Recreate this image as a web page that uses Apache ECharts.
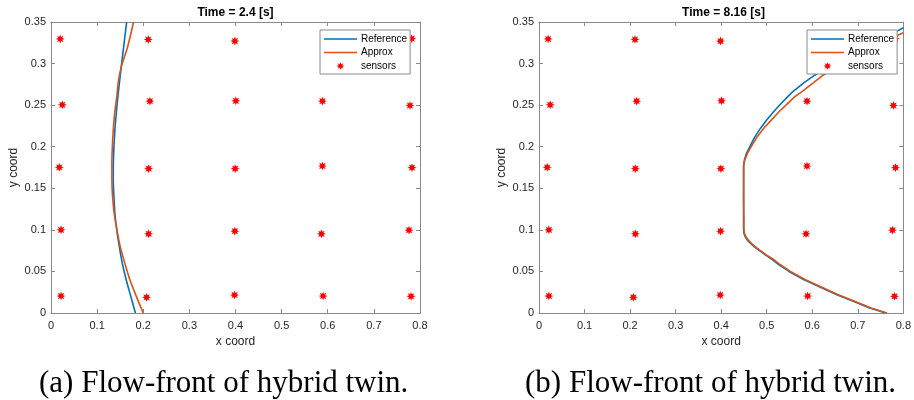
<!DOCTYPE html>
<html><head><meta charset="utf-8">
<script src="https://cdn.jsdelivr.net/npm/echarts@6/dist/echarts.min.js"></script>
<style>html,body{margin:0;padding:0;background:#fff}#c{width:914px;height:400px}</style>
</head><body><div id="c"></div>
<script>
// ---- data ----
const xTicks = [0, 0.1, 0.2, 0.3, 0.4, 0.5, 0.6, 0.7, 0.8];
const yTicks = [0, 0.05, 0.1, 0.15, 0.2, 0.25, 0.3, 0.35];
const seriesNames = ['Reference', 'Approx', 'sensors'];
const titles = ['Time = 2.4 [s]', 'Time = 8.16 [s]'];
const captions = ['(a) Flow-front of hybrid twin.', '(b) Flow-front of hybrid twin.'];

const sensorX = [0.020, 0.2108, 0.3986, 0.782,
                 0.0245, 0.2144, 0.4007, 0.5884, 0.7783,
                 0.018, 0.2116, 0.3993, 0.5884, 0.7827,
                 0.0217, 0.2116, 0.3986, 0.5863, 0.7762,
                 0.0217, 0.2072, 0.3979, 0.5899, 0.7805];
const sensorY = [0.3296, 0.329, 0.327, 0.330,
                 0.2504, 0.2548, 0.2552, 0.2548, 0.2496,
                 0.1752, 0.1736, 0.1736, 0.1768, 0.1748,
                 0.100, 0.0952, 0.0984, 0.0952, 0.0996,
                 0.0204, 0.0188, 0.0216, 0.0204, 0.0200];

// Time = 2.4 s
const refA_y = [0, 0.02, 0.04, 0.06, 0.08, 0.10, 0.12, 0.14, 0.16, 0.18, 0.20, 0.22, 0.24, 0.26, 0.28, 0.296, 0.32, 0.35];
const refA_x = [0.183, 0.173, 0.163, 0.1545, 0.148, 0.1425, 0.1385, 0.1365, 0.135, 0.1352, 0.1365, 0.1385, 0.1415, 0.145, 0.149, 0.1523, 0.1575, 0.164];
const appA_y = [0, 0.02, 0.04, 0.06, 0.08, 0.10, 0.12, 0.14, 0.16, 0.18, 0.20, 0.22, 0.24, 0.26, 0.28, 0.296, 0.32, 0.35];
const appA_x = [0.200, 0.185, 0.171, 0.160, 0.150, 0.143, 0.137, 0.1335, 0.132, 0.132, 0.133, 0.135, 0.138, 0.1425, 0.1465, 0.1523, 0.166, 0.179];

// Time = 8.16 s
const refB_y = [0, 0.006, 0.014, 0.022, 0.031, 0.040, 0.050, 0.058, 0.064, 0.070, 0.076, 0.080, 0.084, 0.088, 0.092, 0.096, 0.100, 0.140, 0.178, 0.184, 0.192, 0.200, 0.211, 0.222, 0.232, 0.242, 0.251, 0.260, 0.267, 0.277, 0.286, 0.302, 0.316, 0.3265, 0.336, 0.343];
const refB_x = [0.761, 0.726, 0.690, 0.654, 0.618, 0.582, 0.549, 0.527, 0.513, 0.497, 0.482, 0.472, 0.464, 0.457, 0.4525, 0.450, 0.4492, 0.449, 0.4492, 0.451, 0.4555, 0.463, 0.473, 0.486, 0.500, 0.515, 0.530, 0.5456, 0.5587, 0.582, 0.6055, 0.650, 0.690, 0.735, 0.7755, 0.800];
const appB_y = [0, 0.006, 0.014, 0.022, 0.031, 0.040, 0.050, 0.058, 0.064, 0.070, 0.076, 0.080, 0.084, 0.088, 0.092, 0.096, 0.100, 0.140, 0.178, 0.184, 0.192, 0.200, 0.211, 0.222, 0.232, 0.242, 0.251, 0.260, 0.266, 0.276, 0.286, 0.300, 0.311, 0.3235, 0.331, 0.337];
const appB_x = [0.764, 0.729, 0.693, 0.657, 0.621, 0.585, 0.552, 0.530, 0.516, 0.499, 0.484, 0.474, 0.466, 0.459, 0.454, 0.451, 0.450, 0.4495, 0.4495, 0.452, 0.4575, 0.466, 0.478, 0.493, 0.510, 0.527, 0.544, 0.561, 0.5767, 0.600, 0.6237, 0.665, 0.705, 0.750, 0.7755, 0.800];

// ---- build ----
const zip = (xs, ys) => xs.map((x, i) => [x, ys[i]]);
const FONT = '"Liberation Sans", Arial, Helvetica, sans-serif';
const AX = '#8a8a8a';
const TXT = '#262626';

function starPath() {
  let d = '';
  for (let i = 0; i < 16; i++) {
    const r = (i % 2 === 0) ? 10 : 5;
    const a = Math.PI / 2 + i * Math.PI / 8;
    const x = (10 + r * Math.cos(a)).toFixed(3);
    const y = (10 - r * Math.sin(a)).toFixed(3);
    d += (i === 0 ? 'M' : 'L') + x + ',' + y;
  }
  return 'path://' + d + 'Z';
}
const STAR = starPath();
const LINE_ICON = 'path://M0,0L100,0L100,5L0,5Z';

const grids = [
  { left: 51, top: 22, width: 369, height: 291 },
  { left: 539, top: 22, width: 369, height: 291 }
];
const xMin = xTicks[0], xMax = xTicks[xTicks.length - 1], xInt = xTicks[1] - xTicks[0];
const yMin = yTicks[0], yMax = yTicks[yTicks.length - 1], yInt = yTicks[1] - yTicks[0];
const fmt = v => String(+v.toFixed(2));

const xAxis = [], yAxis = [];
grids.forEach((g, gi) => {
  xAxis.push({
    type: 'value', gridIndex: gi, position: 'bottom', min: xMin, max: xMax, interval: xInt,
    name: 'x coord', nameLocation: 'middle', nameGap: 23,
    nameTextStyle: { fontFamily: FONT, fontSize: 12, color: TXT },
    axisLine: { show: true, onZero: false, lineStyle: { color: AX, width: 1 } },
    axisTick: { show: true, inside: true, length: 4, lineStyle: { color: AX } },
    axisLabel: { fontFamily: FONT, fontSize: 11, color: TXT, margin: 7, formatter: fmt },
    splitLine: { show: false }
  });
  xAxis.push({
    type: 'value', gridIndex: gi, position: 'top', min: xMin, max: xMax, interval: xInt,
    axisLine: { show: true, onZero: false, lineStyle: { color: AX, width: 1 } },
    axisTick: { show: true, inside: true, length: 4, lineStyle: { color: AX } },
    axisLabel: { show: false }, splitLine: { show: false }
  });
  yAxis.push({
    type: 'value', gridIndex: gi, position: 'left', min: yMin, max: yMax, interval: yInt,
    name: 'y coord', nameLocation: 'middle', nameGap: 31,
    nameTextStyle: { fontFamily: FONT, fontSize: 12, color: TXT },
    axisLine: { show: true, onZero: false, lineStyle: { color: AX, width: 1 } },
    axisTick: { show: true, inside: true, length: 4, lineStyle: { color: AX } },
    axisLabel: { fontFamily: FONT, fontSize: 11, color: TXT, margin: 5, formatter: fmt },
    splitLine: { show: false }
  });
  yAxis.push({
    type: 'value', gridIndex: gi, position: 'right', min: yMin, max: yMax, interval: yInt,
    axisLine: { show: true, onZero: false, lineStyle: { color: AX, width: 1 } },
    axisTick: { show: true, inside: true, length: 4, lineStyle: { color: AX } },
    axisLabel: { show: false }, splitLine: { show: false }
  });
});

const curves = [
  [zip(refA_x, refA_y), zip(appA_x, appA_y)],
  [zip(refB_x, refB_y), zip(appB_x, appB_y)]
];
const colors = ['#0072BD', '#D95319'];
const series = [];
grids.forEach((g, gi) => {
  [0, 1].forEach(k => {
    series.push({
      name: seriesNames[k], type: 'line', xAxisIndex: gi * 2, yAxisIndex: gi * 2,
      data: curves[gi][k], symbol: 'none', showSymbol: false,
      smooth: gi === 0 ? 0.3 : false,
      lineStyle: { color: colors[k], width: 1.6 }, itemStyle: { color: colors[k] },
      animation: false, z: 3
    });
  });
  series.push({
    name: seriesNames[2], type: 'scatter', xAxisIndex: gi * 2, yAxisIndex: gi * 2,
    data: zip(sensorX, sensorY), symbol: STAR, symbolSize: 9,
    itemStyle: { color: '#ff0000', opacity: 1 }, animation: false, z: 2
  });
});

const legendData = [
  { name: seriesNames[0], icon: LINE_ICON },
  { name: seriesNames[1], icon: LINE_ICON },
  { name: seriesNames[2], icon: STAR }
];
const legends = [320, 807].map(l => ({
  show: true, orient: 'vertical', left: l, top: 30,
  data: legendData, selectedMode: false,
  itemWidth: 33, itemHeight: 8, itemGap: 3.5,
  padding: [4, 3, 3, 4],
  backgroundColor: '#ffffff', borderColor: AX, borderWidth: 1, borderRadius: 0,
  textStyle: { fontFamily: FONT, fontSize: 10, color: '#000', padding: [0, 0, 0, -1] },
  z: 10
}));

const graphic = [];
grids.forEach((g, gi) => {
  graphic.push({
    type: 'text', x: g.left + g.width / 2, y: 13, z: 20,
    style: { text: titles[gi], font: 'bold 12px ' + FONT, fill: '#000', align: 'center', verticalAlign: 'middle' }
  });
});
[39, 525].forEach((x, i) => {
  graphic.push({
    type: 'text', x: x, y: 384, z: 20,
    style: { text: captions[i], font: '31px "Liberation Serif", "Times New Roman", serif', fill: '#000', align: 'left', verticalAlign: 'middle' }
  });
});

const chart = echarts.init(document.getElementById('c'), null, { renderer: 'canvas' });
chart.setOption({
  backgroundColor: '#ffffff',
  animation: false,
  grid: grids,
  xAxis: xAxis, yAxis: yAxis,
  legend: legends,
  series: series,
  graphic: graphic
});
</script></body></html>
